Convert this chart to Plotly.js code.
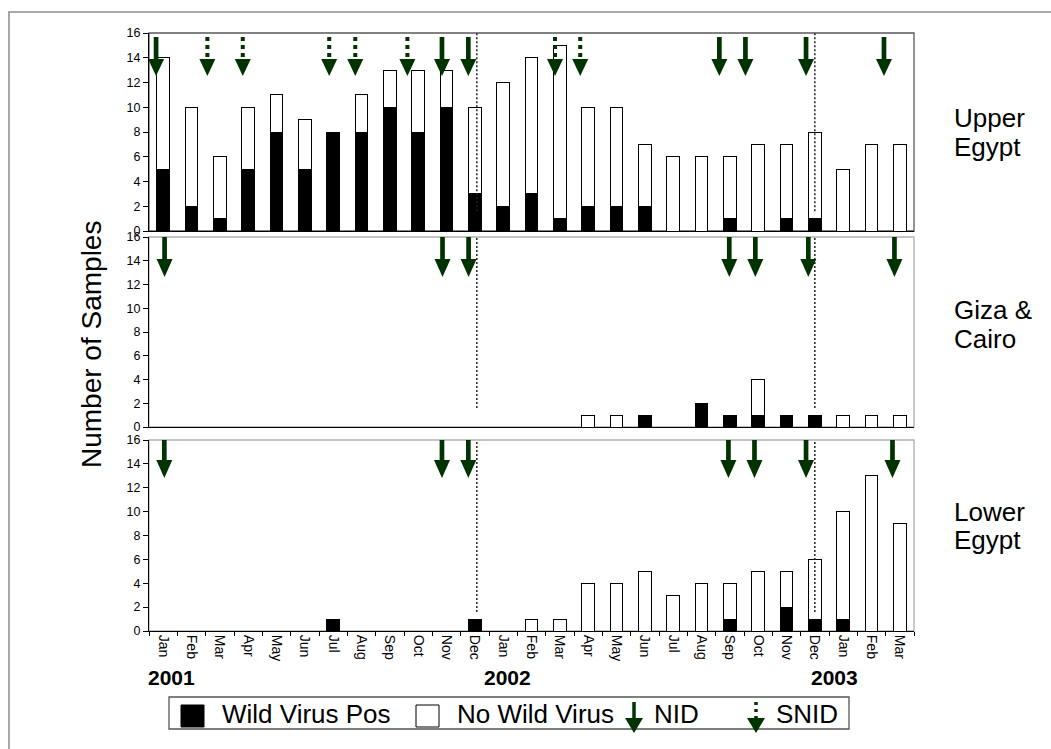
<!DOCTYPE html>
<html><head><meta charset="utf-8">
<script src="https://cdn.plot.ly/plotly-3.0.1.min.js"></script>
<style>html,body{margin:0;padding:0;background:#fff;}</style>
</head><body><div id="chart" style="width:1051px;height:749px;"></div>
<script>
// ---------- DATA ----------
const months = ['Jan','Feb','Mar','Apr','May','Jun','Jul','Aug','Sep','Oct','Nov','Dec',
                'Jan','Feb','Mar','Apr','May','Jun','Jul','Aug','Sep','Oct','Nov','Dec',
                'Jan','Feb','Mar'];
const years = ['2001','2002','2003'];
const yearPos = [0.28, 12.17, 23.71];           // position of year label (month index)
const upperTotal = [14,10,6,10,11,9,8,11,13,13,13,10,12,14,15,10,10,7,6,6,6,7,7,8,5,7,7];
const upperPos   = [5,2,1,5,8,5,8,8,10,8,10,3,2,3,1,2,2,2,0,0,1,0,1,1,0,0,0];
const gizaTotal  = [0,0,0,0,0,0,0,0,0,0,0,0,0,0,0,1,1,1,0,2,1,4,1,1,1,1,1];
const gizaPos    = [0,0,0,0,0,0,0,0,0,0,0,0,0,0,0,0,0,1,0,2,1,1,1,1,0,0,0];
const lowerTotal = [0,0,0,0,0,0,1,0,0,0,0,1,0,1,1,4,4,5,3,4,4,5,5,6,10,13,9];
const lowerPos   = [0,0,0,0,0,0,1,0,0,0,0,1,0,0,0,0,0,0,0,0,1,0,2,1,1,0,0];
// campaign timing (fractional month index)
const nidUpper  = [-0.25, 9.84, 10.77, 19.63, 20.55, 22.69, 25.44];
const snidUpper = [1.56, 2.81, 5.86, 6.78, 8.62, 13.83, 14.72];
const nidGiza   = [0.05, 9.86, 10.78, 19.98, 20.90, 22.77, 25.81];
const nidLower  = [0.04, 9.84, 10.77, 19.95, 20.87, 22.69, 25.74];
const yearEnds  = [11.07, 23.0];
const regionNames = [['Upper','Egypt'],['Giza &','Cairo'],['Lower','Egypt']];
const legendLabels = ['Wild Virus Pos','No Wild Virus','NID','SNID'];

// ---------- LAYOUT HELPERS ----------
const W = 1051, H = 749;
const px = v => v / W;
const py = v => 1 - v / H;
const FONT = 'Liberation Sans, Arial, sans-serif';
const GREEN = '#003300';
const idx = months.map((m,i)=>i);
const panels = [
  {xa:'x', ya:'y', top:33, bot:231, total:upperTotal, pos:upperPos, frame:'#5a5a5a',
   geom:{top:-4, head:-26, tip:-43}, labelY:[117.5, 146.5]},
  {xa:'x2', ya:'y2', top:237, bot:427, total:gizaTotal, pos:gizaPos, frame:'#b0b0b0',
   geom:{top:0, head:-22, tip:-40}, labelY:[310, 338.5]},
  {xa:'x3', ya:'y3', top:440, bot:631, total:lowerTotal, pos:lowerPos, frame:'#b0b0b0',
   geom:{top:2, head:-20, tip:-38}, labelY:[511.5, 540]}
];

const traces = [];
panels.forEach(p => {
  traces.push({type:'bar', x: idx, y: p.pos, xaxis:p.xa, yaxis:p.ya, width:0.44,
    marker:{color:'#000', line:{color:'#000', width:1}}, showlegend:false, hoverinfo:'skip'});
  traces.push({type:'bar', x: idx, y: p.total.map((t,i)=>t - p.pos[i]), xaxis:p.xa, yaxis:p.ya, width:0.44,
    marker:{color:'#fff', line:{color:'#000', width:1}}, showlegend:false, hoverinfo:'skip'});
});

const shapes = [];
const annotations = [];

// outer frame
shapes.push({type:'rect', xref:'paper', yref:'paper', x0:px(9), x1:px(1060), y0:py(760), y1:py(12),
  line:{color:'#8c8c8c', width:1.5}, layer:'below'});

function arrow(xa, ya, xpos, g, dotted){
  shapes.push({type:'line', xref:xa, yref:ya, xsizemode:'pixel', ysizemode:'pixel',
    xanchor:xpos, yanchor:16, x0:0, x1:0, y0:g.top, y1:g.head-1,
    line:{color:GREEN, width: dotted?4:4.7, dash: dotted?'4px,4px':'solid'}, layer:'above'});
  shapes.push({type:'path', xref:xa, yref:ya, xsizemode:'pixel', ysizemode:'pixel',
    xanchor:xpos, yanchor:16, path:`M-8,${g.head} L8,${g.head} L0,${g.tip} Z`,
    fillcolor:GREEN, line:{width:0}, layer:'above'});
}

panels.forEach((p,k) => {
  shapes.push({type:'rect', xref:p.xa+' domain', yref:p.ya+' domain', x0:0, x1:1, y0:0, y1:1,
    line:{color:p.frame, width:1.3}, layer:'below'});
  yearEnds.forEach(v => shapes.push({type:'line', xref:p.xa, yref:p.ya, x0:v, x1:v, y0:1.6, y1:16,
    line:{color:'#222', width:1.5, dash:'2px,2px'}, layer:'above'}));
  regionNames[k].forEach((name, j) => annotations.push({xref:'paper', yref:'paper', x:px(952),
    y:py(p.labelY[j]), xanchor:'left', yanchor:'middle', text:name, showarrow:false,
    font:{family:FONT, size:26, color:'#000'}}));
});
nidUpper.forEach(v => arrow('x','y',v,panels[0].geom,false));
snidUpper.forEach(v => arrow('x','y',v,panels[0].geom,true));
nidGiza.forEach(v => arrow('x2','y2',v,panels[1].geom,false));
nidLower.forEach(v => arrow('x3','y3',v,panels[2].geom,false));

// year labels
years.forEach((y,i) => annotations.push({xref:'x3', yref:'paper', x:yearPos[i], y:py(677),
  xanchor:'center', yanchor:'middle', text:'<b>'+y+'</b>', showarrow:false,
  font:{family:FONT, size:21, color:'#000'}}));

// y title
annotations.push({xref:'paper', yref:'paper', x:px(91), y:py(345), textangle:-90,
  xanchor:'center', yanchor:'middle', text:'Number of Samples', showarrow:false,
  font:{family:FONT, size:28, color:'#000'}});

// legend
shapes.push({type:'rect', xref:'paper', yref:'paper', x0:px(169), x1:px(849), y0:py(729), y1:py(697),
  line:{color:'#555', width:1.3}, fillcolor:'#fff', layer:'above'});
shapes.push({type:'rect', xref:'paper', yref:'paper', x0:px(181), x1:px(204), y0:py(727), y1:py(705),
  line:{color:'#000', width:1}, fillcolor:'#000', layer:'above'});
shapes.push({type:'rect', xref:'paper', yref:'paper', x0:px(416), x1:px(439), y0:py(727), y1:py(705),
  line:{color:'#000', width:1}, fillcolor:'#fff', layer:'above'});
function legArrow(x, dotted){
  shapes.push({type:'line', xref:'paper', yref:'paper', x0:px(x), x1:px(x), y0:py(702), y1:py(719),
    line:{color:GREEN, width:3.5, dash: dotted?'3px,4px':'solid'}, layer:'above'});
  shapes.push({type:'path', xref:'paper', yref:'paper',
    path:`M${px(x-9)},${py(718)} L${px(x+9)},${py(718)} L${px(x)},${py(733)} Z`,
    fillcolor:GREEN, line:{width:0}, layer:'above'});
}
legArrow(634,false); legArrow(756,true);
const legX = [220, 455, 652, 774];
legendLabels.forEach((t,i) => annotations.push({xref:'paper', yref:'paper', x:px(legX[i]), y:py(714),
  xanchor:'left', yanchor:'middle', text:t, showarrow:false, font:{family:FONT, size:26, color:'#000'}}));

const xdom = [px(149), px(914)];
function xaxis(anchor, labels){
  const a = {domain:xdom, anchor:anchor, range:[-0.5, months.length-0.5], showline:true, linecolor:'#000',
    linewidth:1, showgrid:false, zeroline:false, fixedrange:true, ticks:'', showticklabels:false};
  if(labels){
    a.showticklabels = true; a.tickmode='array'; a.tickvals = idx; a.ticktext = months;
    a.tickangle = 90; a.tickfont = {family:FONT, size:14, color:'#000'};
    a.minor = {tickmode:'array', tickvals: months.map((m,i)=>i-0.5).concat([months.length-0.5]),
      ticks:'outside', ticklen:4, tickcolor:'#000', tickwidth:1, showgrid:false};
  }
  return a;
}
function yaxis(anchor, p){
  return {domain:[py(p.bot), py(p.top)], anchor:anchor, range:[0,16], tickmode:'array',
    tickvals:[0,2,4,6,8,10,12,14,16], ticks:'outside', ticklen:5, tickcolor:'#000', showline:true,
    linecolor:'#000', linewidth:1, showgrid:false, zeroline:false, fixedrange:true,
    tickfont:{family:FONT, size:12.5, color:'#000'}};
}

const layout = {
  width:W, height:H, autosize:false, margin:{l:0,r:0,t:0,b:0},
  paper_bgcolor:'#fff', plot_bgcolor:'rgba(0,0,0,0)', barmode:'stack', showlegend:false,
  font:{family:FONT, color:'#000'},
  xaxis: xaxis('y', false), xaxis2: xaxis('y2', false), xaxis3: xaxis('y3', true),
  yaxis: yaxis('x', panels[0]), yaxis2: yaxis('x2', panels[1]), yaxis3: yaxis('x3', panels[2]),
  shapes: shapes, annotations: annotations
};
Plotly.newPlot('chart', traces, layout, {staticPlot:true, displayModeBar:false});
</script></body></html>
